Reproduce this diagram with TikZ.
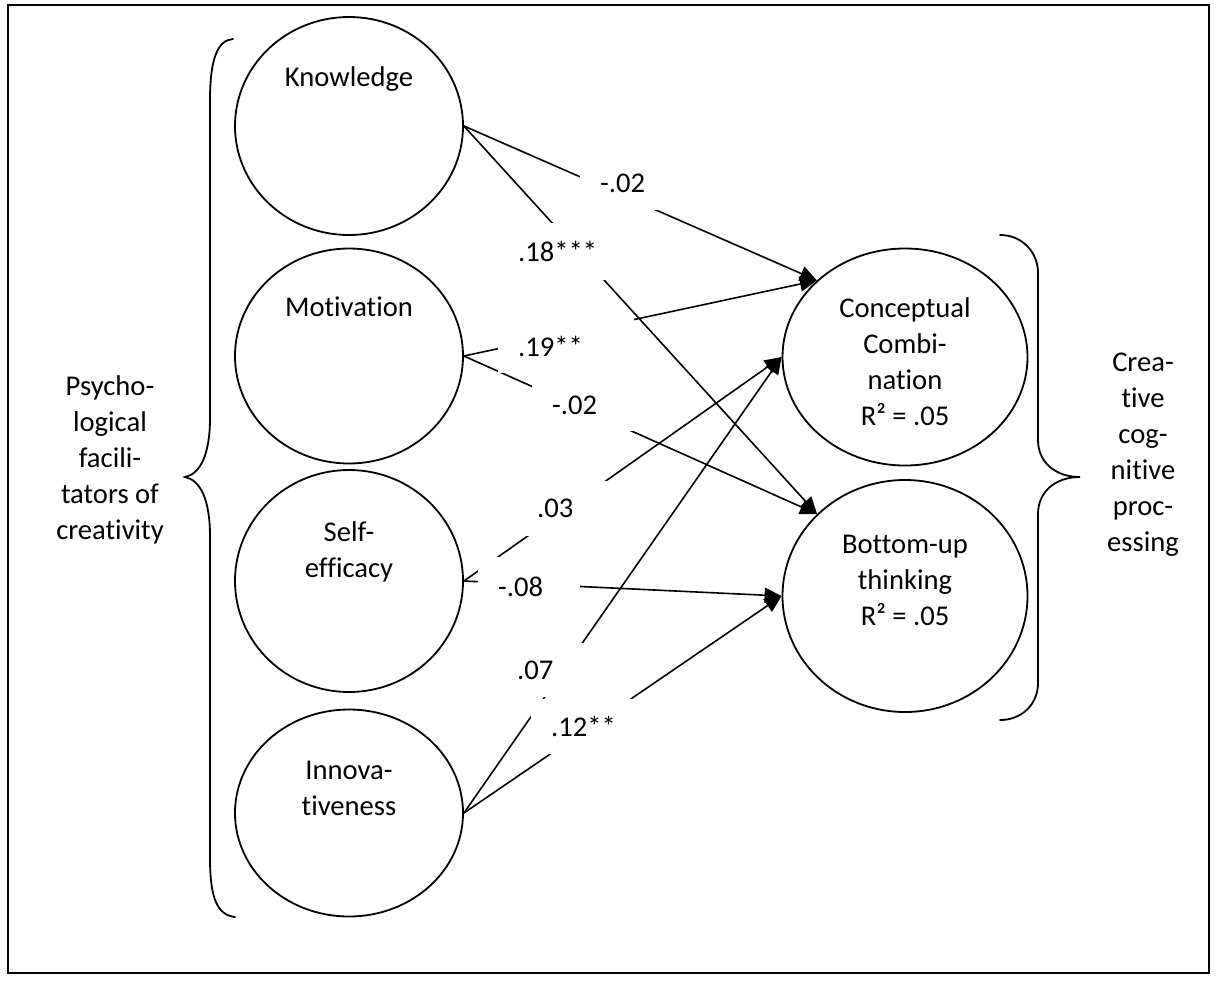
\documentclass[tikz,border=0pt]{standalone}
\usepackage{fontspec}
\setmainfont{Carlito}[Ligatures={NoCommon}]
\usetikzlibrary{shapes.geometric,arrows.meta}
\begin{document}
\begin{tikzpicture}[x=1pt,y=-1pt,
  every node/.style={font=\fontsize{28.6pt}{36pt}\selectfont},
  construct/.style={draw, ellipse, line width=1.8pt, inner sep=0pt},
  caption/.style={align=center, inner sep=0pt},
  effect/.style={line width=1.6pt, -{Triangle[length=17pt,width=15pt]}},
  coef/.style={fill=white, anchor=north west, inner xsep=20pt, inner ysep=0pt, align=left},
  brace/.style={line width=1.8pt, line cap=round}
]
\useasboundingbox (0,0) rectangle (1217,980);
\draw[line width=2pt] (8,5) rectangle (1209,973);

% predictors
\node[construct, minimum width=228pt, minimum height=218pt] (kn) at (349,126) {};
\node[construct, minimum width=228pt, minimum height=215pt] (mo) at (349,356) {};
\node[construct, minimum width=228pt, minimum height=222pt] (se) at (349,581) {};
\node[construct, minimum width=228pt, minimum height=207pt] (in) at (349,813) {};
\node[caption] (kn-text) at (349,79) {Knowledge};
\node[caption] (mo-text) at (349,307) {Motivation};
\node[caption] (se-text) at (349,552) {Self-\\efficacy};
\node[caption] (in-text) at (349,788) {Innova-\\tiveness};

% outcomes
\node[construct, minimum width=245pt, minimum height=217pt] (cc) at (905,357) {};
\node[construct, minimum width=245pt, minimum height=232pt] (bu) at (905,596) {};
\node[caption] (cc-text) at (905,362) {Conceptual\\Combi-\\nation\\R² = .05};
\node[caption] (bu-text) at (905,580) {Bottom-up\\thinking\\R² = .05};

% group braces and their captions
\draw[brace] (233,39) .. controls (218,40) and (210,58) .. (210,100) -- (210,418)
  .. controls (210,455) and (200,474) .. (185,477)
  .. controls (200,480) and (210,499) .. (210,536) -- (210,858)
  .. controls (210,900) and (218,915) .. (235,917);
\draw[brace] (1000,235) .. controls (1022,235) and (1038,252) .. (1038,273) -- (1038,440)
  .. controls (1038,462) and (1055,477) .. (1080,477)
  .. controls (1055,477) and (1038,492) .. (1038,514) -- (1038,683)
  .. controls (1038,704) and (1022,720) .. (1000,720);
\node[caption] (facilitators) at (110,460) {Psycho-\\logical\\facili-\\tators of\\creativity};
\node[caption] (processing) at (1143,455) {Crea-\\tive\\cog-\\nitive\\proc-\\essing};

% paths
\draw[effect] (kn.east) -- (cc.139);
\draw[effect] (kn.east) -- (bu.137);
\draw[effect] (mo.east) -- (cc.139);
\draw[effect] (mo.east) -- (bu.137);
\draw[effect] (se.east) -- (cc.west);
\draw[effect] (se.east) -- (bu.west);
\draw[effect] (in.east) -- (cc.west);
\draw[effect] (in.east) -- (bu.west);

% path coefficients
\node[coef, text width=60pt, minimum height=54pt] (c-kn-cc) at (580,156) {-.02};
\node[coef, text width=92pt, minimum height=57pt] (c-kn-bu) at (498,223) {.18***};
\node[coef, text width=96pt, minimum height=54pt] (c-mo-cc) at (498,319) {.19**};
\node[coef, text width=68pt, minimum height=52pt] (c-mo-bu) at (532,379) {-.02};
\node[coef, text width=63pt, minimum height=55pt] (c-se-cc) at (517,481) {.03};
\node[coef, text width=62pt, minimum height=60pt] (c-se-bu) at (478,557) {-.08};
\node[coef, text width=63pt, minimum height=54pt] (c-in-cc) at (497,643) {.07};
\node[coef, text width=69pt, minimum height=55pt] (c-in-bu) at (531,699) {.12**};
\end{tikzpicture}
\end{document}
